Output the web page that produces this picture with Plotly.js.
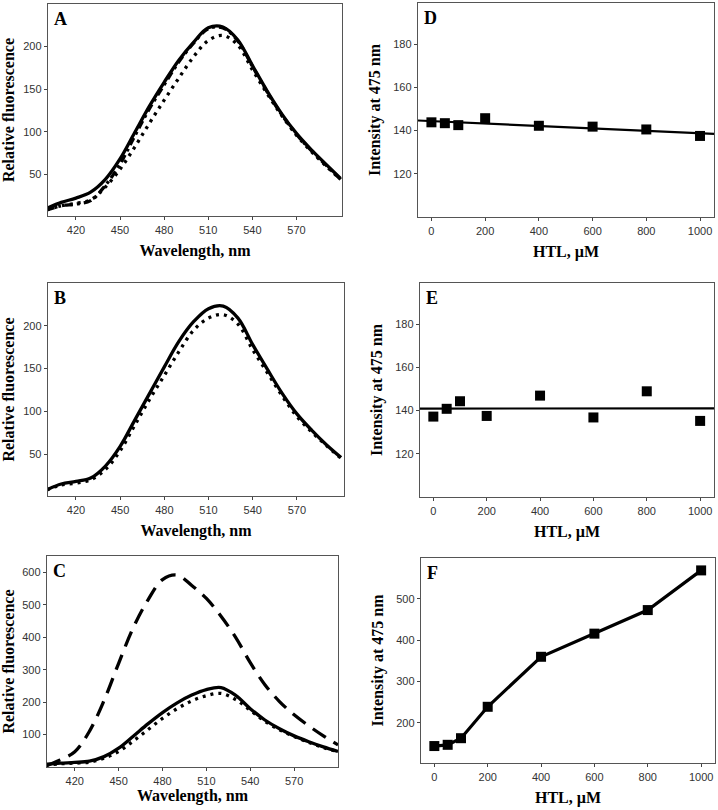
<!DOCTYPE html>
<html>
<head>
<meta charset="utf-8">
<script src="https://cdn.plot.ly/plotly-3.0.1.min.js"></script>
<style>
  html, body { margin: 0; padding: 0; background: #fff; }
  #chart { width: 718px; height: 810px; }
</style>
</head>
<body>
<div id="chart"></div>
<script>
// Emission spectra (wavelength, nm)
const wavelength = [400, 410, 420, 430, 440, 450, 460, 470, 480, 490, 500, 510, 520, 530, 540, 550, 560, 570, 580, 590, 600];

// Panel A
const aSolid   = [10, 17, 22, 29, 44, 68, 99, 130, 158, 184, 205, 222, 223, 208, 178, 148, 121, 98, 79, 62, 45];
const aDashDot = [8, 13, 15, 19, 37, 62, 95, 127, 155, 182, 204, 221, 222, 207, 177, 147, 120, 97, 78, 61, 44];
const aDotted  = [8, 13, 16, 20, 35, 56, 82, 110, 137, 163, 188, 207, 213, 202, 173, 145, 119, 96, 77, 60, 44];

// Panel B
const bSolid  = [8, 15, 18, 22, 36, 59, 90, 121, 152, 182, 205, 220, 223, 209, 178, 149, 121, 97, 78, 61, 46];
const bDotted = [8, 14, 16, 20, 32, 54, 84, 114, 142, 170, 195, 209, 213, 202, 172, 145, 118, 94, 76, 60, 45];

// Panel C
const cSolid  = [8, 12, 14, 18, 32, 58, 95, 133, 168, 198, 222, 239, 245, 221, 180, 145, 118, 96, 78, 62, 48];
const cDotted = [6, 10, 12, 15, 27, 48, 80, 115, 150, 180, 204, 220, 227, 208, 175, 141, 115, 94, 76, 60, 47];
const cDashed = [3, 22, 47, 110, 205, 320, 430, 515, 578, 592, 560, 520, 465, 400, 322, 254, 202, 161, 127, 96, 68];

// Intensity at 475 nm vs HTL (uM)
const htl = [0, 50, 100, 200, 400, 600, 800, 1000];
const dIntensity = [143.8, 143.4, 142.5, 145.7, 142.2, 141.8, 140.5, 137.5];
const eIntensity = [137.2, 140.8, 144.3, 137.5, 146.9, 136.8, 148.9, 135.2];
const fIntensity = [144, 147, 163, 239, 360, 416, 473, 569];

const spectrumTicks = [420, 450, 480, 510, 540, 570];
const htlTicks = [0, 200, 400, 600, 800, 1000];

const W = 718, H = 810;
// plot boxes in pixels: [left, right, top, bottom]
const boxes = {
    A: [48, 342, 4, 216],
    D: [418, 714, 3, 217],
    B: [48, 344, 283, 496],
    E: [420, 714, 283, 497],
    C: [47, 338, 556, 767],
    F: [421, 715, 558, 763]
};

function dom(b) {
    return { x: [b[0] / W, b[1] / W], y: [1 - b[3] / H, 1 - b[2] / H] };
}

// least squares line through the points, drawn across the axis range
function fitLine(x, y, x0, x1) {
    const n = x.length;
    const mx = x.reduce((s, v) => s + v, 0) / n;
    const my = y.reduce((s, v) => s + v, 0) / n;
    let sxy = 0, sxx = 0;
    for (let i = 0; i < n; i++) {
        sxy += (x[i] - mx) * (y[i] - my);
        sxx += (x[i] - mx) * (x[i] - mx);
    }
    const k = sxy / sxx;
    return { x: [x0, x1], y: [my + k * (x0 - mx), my + k * (x1 - mx)] };
}

function curve(y, dash, xa, ya) {
    return {
        x: wavelength, y: y, xaxis: xa, yaxis: ya, mode: 'lines',
        line: { color: '#000', width: 3.3, dash: dash, shape: 'spline', smoothing: 1 },
        hoverinfo: 'skip'
    };
}

function squares(y, xa, ya, withLine) {
    return {
        x: htl, y: y, xaxis: xa, yaxis: ya,
        mode: withLine ? 'lines+markers' : 'markers',
        line: { color: '#000', width: 3.2 },
        marker: { symbol: 'square', size: 10, color: '#000' },
        hoverinfo: 'skip'
    };
}

const DOT = '3px,5px';
const DASHDOT = '8px,4px,3px,4px';
const DASH = '16px,9px';

const dFit = fitLine(htl, dIntensity, -50, 1052);
const eFit = fitLine(htl, eIntensity, -50, 1052);

const traces = [
    curve(aDotted, DOT, 'x', 'y'),
    curve(aDashDot, DASHDOT, 'x', 'y'),
    curve(aSolid, 'solid', 'x', 'y'),
    { x: dFit.x, y: dFit.y, xaxis: 'x2', yaxis: 'y2', mode: 'lines', line: { color: '#000', width: 2.2 } },
    squares(dIntensity, 'x2', 'y2', false),
    curve(bDotted, DOT, 'x3', 'y3'),
    curve(bSolid, 'solid', 'x3', 'y3'),
    { x: eFit.x, y: eFit.y, xaxis: 'x4', yaxis: 'y4', mode: 'lines', line: { color: '#000', width: 2.2 } },
    squares(eIntensity, 'x4', 'y4', false),
    curve(cDotted, DOT, 'x5', 'y5'),
    curve(cSolid, 'solid', 'x5', 'y5'),
    curve(cDashed, DASH, 'x5', 'y5'),
    squares(fIntensity, 'x6', 'y6', true)
];

const tickFont = { family: 'Liberation Sans, Arial, sans-serif', size: 11, color: '#333' };
const titleFont = { family: 'Liberation Serif, Times New Roman, serif', size: 16, color: '#000' };

function xAxis(b, anchor, range, ticks, title) {
    return {
        domain: dom(b).x, anchor: anchor, range: range,
        tickvals: ticks, ticks: 'outside', ticklen: 3, tickcolor: '#444',
        showline: true, mirror: true, linecolor: '#555', linewidth: 1.3,
        showgrid: false, zeroline: false, tickfont: tickFont,
        title: { text: '<b>' + title + '</b>', font: titleFont, standoff: 10 }
    };
}

function yAxis(b, anchor, range, ticks, title) {
    return {
        domain: dom(b).y, anchor: anchor, range: range,
        tickvals: ticks, ticks: 'outside', ticklen: 3, tickcolor: '#444',
        showline: true, mirror: true, linecolor: '#555', linewidth: 1.3,
        showgrid: false, zeroline: false, tickfont: tickFont,
        title: { text: '<b>' + title + '</b>', font: titleFont, standoff: 8 }
    };
}

const yFluor = 'Relative fluorescence';
const yInt = 'Intensity at 475 nm';
const xWave = 'Wavelength, nm';
const xHtl = 'HTL, \u00B5M';

function letter(txt, b) {
    return {
        text: '<b>' + txt + '</b>', xref: 'paper', yref: 'paper',
        x: (b[0] + 4) / W, y: 1 - (b[2] + 3) / H, xanchor: 'left', yanchor: 'top',
        showarrow: false, font: { family: 'Liberation Serif, Times New Roman, serif', size: 18, color: '#000' }
    };
}

const layout = {
    width: W, height: H,
    margin: { l: 0, r: 0, t: 0, b: 0 },
    paper_bgcolor: '#fff', plot_bgcolor: '#fff',
    showlegend: false,
    xaxis: xAxis(boxes.A, 'y', [401, 601], spectrumTicks, xWave),
    yaxis: yAxis(boxes.A, 'x', [1, 250], [50, 100, 150, 200], yFluor),
    xaxis2: xAxis(boxes.D, 'y2', [-50, 1052], htlTicks, xHtl),
    yaxis2: yAxis(boxes.D, 'x2', [100, 199], [120, 140, 160, 180], yInt),
    xaxis3: xAxis(boxes.B, 'y3', [401, 602], spectrumTicks, xWave),
    yaxis3: yAxis(boxes.B, 'x3', [1, 250], [50, 100, 150, 200], yFluor),
    xaxis4: xAxis(boxes.E, 'y4', [-50, 1052], htlTicks, xHtl),
    yaxis4: yAxis(boxes.E, 'x4', [100, 199], [120, 140, 160, 180], yInt),
    xaxis5: xAxis(boxes.C, 'y5', [401, 600], spectrumTicks, xWave),
    yaxis5: yAxis(boxes.C, 'x5', [0, 651], [100, 200, 300, 400, 500, 600], yFluor),
    xaxis6: xAxis(boxes.F, 'y6', [-50, 1052], htlTicks, xHtl),
    yaxis6: yAxis(boxes.F, 'x6', [103, 599], [200, 300, 400, 500], yInt),
    annotations: [
        letter('A', boxes.A), letter('D', boxes.D), letter('B', boxes.B),
        letter('E', boxes.E), letter('C', boxes.C), letter('F', boxes.F)
    ]
};

// C title sits a little closer to its axis in the original
layout.xaxis5.title.standoff = 4;

Plotly.newPlot('chart', traces, layout, { staticPlot: true, displayModeBar: false });
</script>
</body>
</html>
